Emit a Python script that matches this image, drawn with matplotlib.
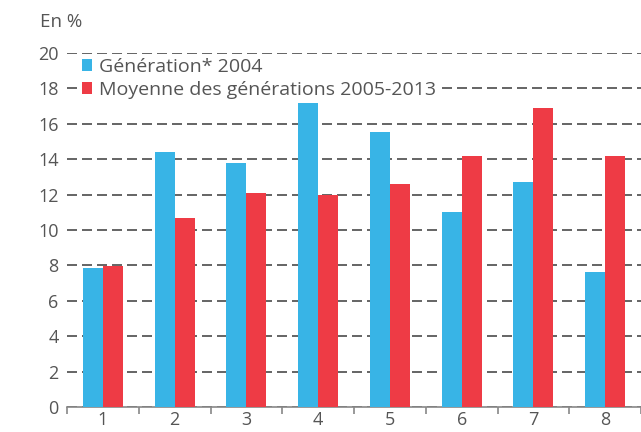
import numpy as np
import matplotlib
matplotlib.use('Agg')
from matplotlib import pyplot as plt

plt.rcParams['font.family'] = ['Open Sans', 'DejaVu Sans']

categories = ['1', '2', '3', '4', '5', '6', '7', '8']
gen_2004 = [7.85, 14.4, 13.8, 17.2, 15.55, 11.0, 12.7, 7.6]
moy_2005_2013 = [7.95, 10.65, 12.1, 12.0, 12.6, 14.2, 16.9, 14.2]
labels = ['Génération* 2004', 'Moyenne des générations 2005-2013']

blue = '#38b4e6'
red = '#ee3b45'
grey = '#555555'

fig = plt.figure(figsize=(6.41, 4.32), dpi=100)
ax = fig.add_axes([67 / 641, 25 / 432, 1 - 67 / 641, 354 / 432])

x = np.arange(1, len(categories) + 1)
w = 0.28
ax.bar(x - w / 2, gen_2004, w, color=blue, label=labels[0], zorder=3)
ax.bar(x + w / 2, moy_2005_2013, w, color=red, label=labels[1], zorder=3)

ax.set_ylim(0, 20)
ax.set_xlim(0.5, 8.44)
ax.set_yticks(range(0, 21, 2))
ax.yaxis.grid(True, linestyle=(0, (6, 3)), color='#4a4a4a', linewidth=1.2, zorder=0)
ax.set_axisbelow(True)

# x ticks at the category boundaries, labels centred
ax.set_xticks(np.arange(0.5, 9, 1))
ax.set_xticklabels([])
ax.set_xticks(x, minor=True)
ax.set_xticklabels(categories, minor=True)
ax.tick_params(axis='x', which='major', length=5, color='#888888', width=1.2, direction='out')
ax.tick_params(axis='x', which='minor', length=0, labelsize=13, labelcolor=grey, pad=3)
ax.tick_params(axis='y', length=0, labelsize=13, labelcolor=grey, pad=6)

for s in ['top', 'right', 'left']:
    ax.spines[s].set_visible(False)
ax.spines['bottom'].set_color('#888888')
ax.spines['bottom'].set_linewidth(1.2)

fig.text(40 / 641, 1 - 22 / 432, 'En %', fontsize=13.5, color=grey, va='center', ha='left')

leg = ax.legend(loc='upper left', bbox_to_anchor=(0.017, 1.0), frameon=True, fontsize=14,
                handlelength=0.55, handleheight=0.55, handletextpad=0.35, borderpad=0.05,
                labelspacing=0.25, borderaxespad=0.2, labelcolor=grey)
leg.get_frame().set_facecolor('white')
leg.get_frame().set_edgecolor('none')
leg.get_frame().set_alpha(1)
leg.set_zorder(5)

fig.savefig('out.png', dpi=100)
